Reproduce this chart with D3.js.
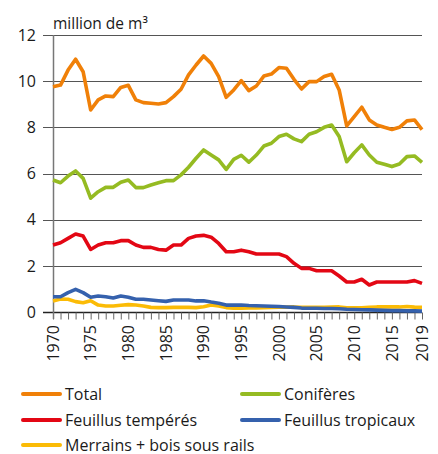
<!DOCTYPE html>
<html>
<head>
<meta charset="utf-8">
<script src="https://cdn.jsdelivr.net/npm/d3@7"></script>
<style>
	body { margin: 0; background: #fff; }
	text { font-family: "Open Sans", "Noto Sans", sans-serif; fill: #1a1a1a; }
</style>
</head>
<body>
<div id="chart"></div>
<script>
// Data

var years = d3.range(1970, 2020);

var total = [9.76, 9.83, 10.48, 10.95, 10.41, 8.75, 9.19, 9.36, 9.33, 9.73,
	9.82, 9.19, 9.07, 9.04, 9.01, 9.07, 9.33, 9.65, 10.27, 10.70,
	11.09, 10.77, 10.20, 9.30, 9.62, 10.02, 9.59, 9.79, 10.22, 10.31,
	10.59, 10.56, 10.08, 9.66, 9.98, 9.98, 10.20, 10.30, 9.62, 8.06,
	8.46, 8.87, 8.32, 8.10, 8.00, 7.91, 8.00, 8.28, 8.32, 7.90];

var coniferes = [5.72, 5.60, 5.89, 6.11, 5.79, 4.93, 5.21, 5.40, 5.40, 5.62,
	5.72, 5.39, 5.39, 5.50, 5.60, 5.69, 5.69, 5.94, 6.27, 6.66,
	7.02, 6.80, 6.59, 6.18, 6.61, 6.79, 6.49, 6.80, 7.19, 7.31,
	7.60, 7.70, 7.50, 7.38, 7.70, 7.81, 8.00, 8.10, 7.60, 6.51,
	6.90, 7.24, 6.80, 6.49, 6.40, 6.30, 6.41, 6.73, 6.76, 6.48];

var feuillusTemperes = [2.90, 3.00, 3.19, 3.38, 3.29, 2.71, 2.90, 3.00, 3.00, 3.09,
	3.09, 2.90, 2.80, 2.80, 2.71, 2.68, 2.90, 2.90, 3.19, 3.29,
	3.32, 3.24, 2.97, 2.61, 2.61, 2.68, 2.61, 2.51, 2.51, 2.51,
	2.51, 2.40, 2.11, 1.89, 1.89, 1.79, 1.79, 1.79, 1.56, 1.30,
	1.30, 1.42, 1.17, 1.30, 1.30, 1.30, 1.30, 1.30, 1.36, 1.24];

var feuillusTropicaux = [0.66, 0.66, 0.84, 0.98, 0.84, 0.64, 0.69, 0.66, 0.61, 0.69,
	0.64, 0.55, 0.55, 0.52, 0.49, 0.46, 0.52, 0.52, 0.52, 0.48,
	0.49, 0.43, 0.38, 0.30, 0.30, 0.30, 0.28, 0.27, 0.26, 0.25,
	0.24, 0.22, 0.20, 0.17, 0.16, 0.16, 0.15, 0.15, 0.14, 0.12,
	0.11, 0.10, 0.09, 0.08, 0.07, 0.06, 0.06, 0.05, 0.05, 0.04];

var merrains = [0.48, 0.56, 0.55, 0.45, 0.40, 0.49, 0.30, 0.26, 0.26, 0.29,
	0.32, 0.30, 0.26, 0.20, 0.19, 0.19, 0.20, 0.20, 0.20, 0.19,
	0.23, 0.30, 0.26, 0.19, 0.16, 0.17, 0.18, 0.18, 0.19, 0.20,
	0.21, 0.21, 0.22, 0.20, 0.20, 0.20, 0.20, 0.21, 0.22, 0.18,
	0.18, 0.18, 0.20, 0.22, 0.22, 0.22, 0.22, 0.24, 0.21, 0.20];

var yTicks = [0, 2, 4, 6, 8, 10, 12];
var yearLabels = [1970, 1975, 1980, 1985, 1990, 1995, 2000, 2005, 2010, 2015, 2019];

var seriesNames = ['Total', 'Conifères', 'Feuillus tempérés', 'Feuillus tropicaux', 'Merrains + bois sous rails'];
var seriesValues = [total, coniferes, feuillusTemperes, feuillusTropicaux, merrains];
var seriesColors = ['#f08008', '#95bb22', '#e30714', '#3561ad', '#fbbb06'];


// Config

var width = 438, height = 454;
var margin = { top: 35, right: 16, bottom: 142, left: 53 };


// Setup

var svg = d3.select('#chart').append('svg')
	.attr('width', width)
	.attr('height', height);

var x = d3.scaleLinear()
	.domain([1970, 2019])
	.range([margin.left, width - margin.right]);

var y = d3.scaleLinear()
	.domain([0, 12])
	.range([height - margin.bottom, margin.top]);

// grid lines (with small tick stubs to the left of the axis)
svg.append('g').attr('class', 'grid')
	.selectAll('line')
	.data(yTicks.filter(d => d > 0))
	.enter().append('line')
		.attr('x1', margin.left - 10)
		.attr('x2', width - margin.right)
		.attr('y1', d => Math.round(y(d)) + 0.5)
		.attr('y2', d => Math.round(y(d)) + 0.5)
		.attr('stroke', '#555')
		.attr('stroke-width', 1.2);

// y labels
svg.append('g').attr('class', 'y-labels')
	.selectAll('text')
	.data(yTicks)
	.enter().append('text')
		.attr('x', margin.left - 17)
		.attr('y', d => y(d))
		.attr('dy', '0.36em')
		.attr('text-anchor', 'end')
		.attr('font-size', 16)
		.text(d => d);

svg.append('text')
	.attr('x', margin.left)
	.attr('y', 29)
	.attr('font-size', 15.5)
	.text('million de m³');

// x axis with a tick every year
var xAxis = d3.axisBottom(x)
	.tickValues(years)
	.tickSize(7)
	.tickFormat('');

svg.append('g')
	.attr('class', 'x-axis')
	.attr('transform', `translate(0, ${Math.round(y(0)) + 0.5})`)
	.call(xAxis)
	.call(g => g.select('.domain').attr('stroke', '#222').attr('stroke-width', 1.3).attr('d', `M${margin.left - 10},0H${width - margin.right}`))
	.call(g => g.selectAll('.tick line').attr('stroke', '#666'));

// y axis vertical line
svg.append('line')
	.attr('x1', margin.left + 0.5)
	.attr('x2', margin.left + 0.5)
	.attr('y1', y(12))
	.attr('y2', y(0) + 7)
	.attr('stroke', '#777')
	.attr('stroke-width', 1.5);

// year labels, rotated
svg.append('g').attr('class', 'x-labels')
	.selectAll('text')
	.data(yearLabels)
	.enter().append('text')
		.attr('transform', d => `translate(${x(d)}, ${y(0) + 13}) rotate(-90)`)
		.attr('dy', '0.36em')
		.attr('text-anchor', 'end')
		.attr('font-size', 16)
		.text(d => d);

// lines
var line = d3.line()
	.x((d, i) => x(years[i]))
	.y(d => y(d));

var drawOrder = [4, 3, 2, 1, 0];
svg.append('g').attr('class', 'lines')
	.selectAll('path')
	.data(drawOrder)
	.enter().append('path')
		.attr('d', i => line(seriesValues[i]))
		.attr('fill', 'none')
		.attr('stroke', i => seriesColors[i])
		.attr('stroke-width', 3.6)
		.attr('stroke-linejoin', 'round')
		.attr('stroke-linecap', 'butt');

// legend
var legendPos = [[22, 394], [241, 394], [22, 420], [241, 420], [22, 445]];
var legend = svg.append('g').attr('class', 'legend')
	.selectAll('g')
	.data(seriesNames)
	.enter().append('g')
		.attr('transform', (d, i) => `translate(${legendPos[i][0]}, ${legendPos[i][1]})`);

legend.append('line')
	.attr('x1', 1).attr('x2', 38)
	.attr('stroke', (d, i) => seriesColors[i])
	.attr('stroke-width', 4)
	.attr('stroke-linecap', 'round');

legend.append('text')
	.attr('x', 43)
	.attr('dy', '0.36em')
	.attr('font-size', 16)
	.text(d => d);
</script>
</body>
</html>
